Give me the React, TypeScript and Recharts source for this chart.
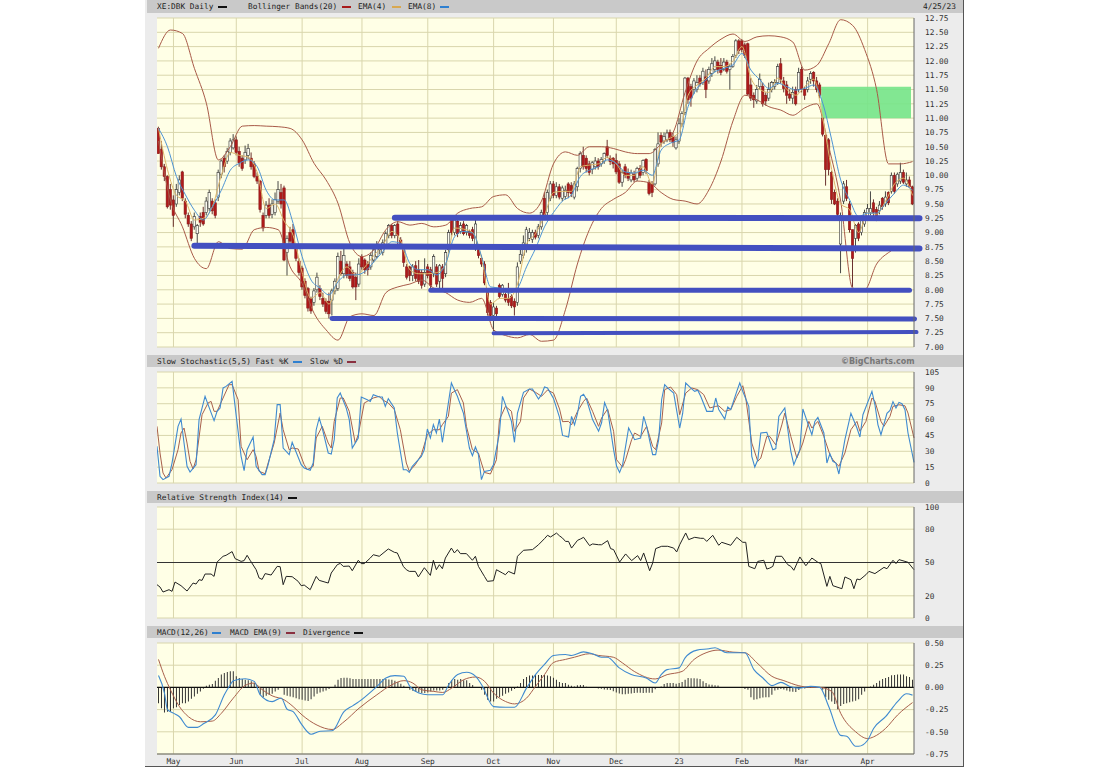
import {
  Bar,
  CartesianGrid,
  ComposedChart,
  Line,
  ReferenceArea,
  ReferenceLine,
  XAxis,
  YAxis,
} from "recharts";

const FONT = "'DejaVu Sans Mono', monospace";

const opens = [
  10.82,10.45,10.15,9.98,9.75,9.57,9.50,9.70,10.06,9.55,
  9.30,9.15,9.10,8.98,9.28,9.35,9.35,9.42,9.55,9.52,
  9.62,10.02,10.30,10.25,10.40,10.48,10.62,10.42,10.30,10.27,
  10.35,10.30,10.20,9.98,9.90,9.30,9.30,9.48,9.32,9.35,
  9.55,9.70,9.78,8.65,9.00,9.05,8.75,8.50,8.38,8.15,
  8.02,7.85,7.78,8.00,8.02,7.85,7.80,7.80,7.82,7.98,
  8.02,8.50,8.28,8.45,8.40,8.30,8.22,8.10,8.58,8.52,
  8.45,8.40,8.52,8.58,8.70,8.65,8.78,8.95,9.12,8.95,
  9.15,8.87,8.70,8.40,8.40,8.25,8.42,8.35,8.30,8.10,
  8.40,8.35,8.28,8.40,8.15,8.40,8.28,8.70,9.22,9.00,
  9.20,9.02,9.15,9.00,9.02,9.05,8.72,8.70,8.55,8.45,
  7.95,7.78,7.55,7.68,8.08,7.92,7.92,7.85,7.88,7.80,
  7.78,8.50,8.60,8.72,8.90,8.88,9.00,8.95,9.10,9.60,
  9.35,9.60,9.85,9.65,9.80,9.60,9.63,9.85,9.82,9.62,
  9.80,10.12,10.35,10.30,10.20,10.10,10.15,10.25,10.20,10.25,
  10.50,10.30,10.30,10.26,10.20,9.88,10.15,10.05,9.92,10.02,
  9.95,10.12,10.05,10.28,9.88,9.85,9.85,10.20,10.70,10.60,
  10.62,10.75,10.68,10.48,10.60,10.90,11.10,11.70,11.55,11.50,
  11.50,11.70,11.62,11.72,11.65,11.78,11.85,11.98,11.92,11.85,
  11.98,11.85,11.90,12.10,12.35,12.35,12.28,12.30,11.58,11.40,
  11.30,11.55,11.55,11.40,11.35,11.50,11.55,11.62,11.95,11.65,
  11.58,11.42,11.35,11.50,11.50,11.85,11.50,11.50,11.68,11.80,
  11.65,11.58,11.00,10.70,10.62,10.05,9.70,9.55,8.80,9.55,
  9.80,9.50,9.05,8.90,9.15,9.00,9.15,9.28,9.35,9.52,
  9.40,9.38,9.60,9.50,9.70,9.72,10.00,9.85,9.90,10.05,
  9.85,9.92,9.80,
];
const closes = [
  10.38,10.15,9.98,9.45,9.48,9.30,9.75,9.92,9.60,9.32,
  9.15,8.90,9.28,9.12,9.18,9.15,9.55,9.70,9.38,9.30,
  10.05,10.25,10.15,10.42,10.60,10.62,10.40,10.22,10.12,10.40,
  10.47,10.15,9.98,9.90,9.40,9.08,9.48,9.30,9.50,9.58,
  9.75,9.50,8.52,8.90,8.85,8.80,8.55,8.30,8.05,7.90,
  7.68,7.63,7.98,8.22,7.88,7.75,7.62,7.58,7.98,8.15,
  8.58,8.28,8.60,8.25,8.20,8.05,8.05,8.45,8.40,8.35,
  8.35,8.60,8.70,8.78,8.75,8.82,8.98,9.12,8.95,9.12,
  8.95,8.78,8.48,8.22,8.25,8.40,8.20,8.15,8.08,8.30,
  8.25,8.08,8.58,8.10,8.42,8.20,8.65,9.00,9.00,9.22,
  8.98,9.12,8.98,9.12,8.95,8.90,9.15,8.60,8.45,8.12,
  7.60,7.55,7.70,7.58,7.88,8.08,7.82,7.78,7.72,7.70,
  8.40,8.62,8.82,9.05,9.00,9.00,8.92,9.10,9.35,9.30,
  9.70,9.85,9.65,9.80,9.62,9.78,9.74,9.70,9.68,9.85,
  10.12,10.38,10.15,10.12,10.05,10.22,10.25,10.15,10.28,10.38,
  10.35,10.24,10.20,10.06,9.88,10.05,10.00,9.95,10.04,9.92,
  10.12,10.00,10.26,10.08,9.68,9.70,10.45,10.55,10.58,10.68,
  10.74,10.62,10.58,10.62,10.90,11.08,11.70,11.32,11.35,11.65,
  11.62,11.60,11.82,11.50,11.85,11.95,12.00,11.85,11.80,11.98,
  11.82,11.90,12.08,12.35,12.18,12.20,12.10,11.42,11.35,11.32,
  11.50,11.68,11.25,11.30,11.50,11.62,11.62,11.90,11.68,11.52,
  11.40,11.35,11.45,11.25,11.80,11.50,11.40,11.65,11.78,11.65,
  11.50,11.40,10.72,10.10,10.10,9.58,9.50,9.32,9.30,9.85,
  9.60,9.05,8.55,9.12,8.90,9.22,9.35,9.42,9.42,9.35,
  9.22,9.48,9.45,9.62,9.52,10.00,9.72,10.02,10.05,9.88,
  9.92,9.80,9.50,
];
const highs = [
  10.85,10.60,10.20,10.00,9.85,9.65,9.85,10.00,10.08,9.60,
  9.35,9.20,9.35,9.15,9.35,9.45,9.62,9.75,9.60,9.58,
  10.10,10.28,10.35,10.48,10.65,10.72,10.68,10.50,10.35,10.52,
  10.55,10.40,10.25,10.05,9.92,9.35,9.55,9.60,9.58,9.70,
  9.90,9.85,9.82,8.95,9.10,9.15,8.80,8.55,8.42,8.20,
  8.05,7.88,8.03,8.30,8.08,7.95,7.85,7.95,8.02,8.20,
  8.65,8.68,8.72,8.50,8.50,8.35,8.30,8.55,8.62,8.55,
  8.50,8.65,8.75,8.85,8.80,8.88,9.02,9.15,9.15,9.15,
  9.20,8.92,8.75,8.45,8.42,8.45,8.50,8.52,8.35,8.55,
  8.45,8.40,8.62,8.45,8.45,8.45,8.70,9.05,9.28,9.28,
  9.25,9.18,9.20,9.15,9.05,9.10,9.25,8.75,8.60,8.50,
  8.00,7.82,7.78,7.72,8.11,8.10,7.95,8.12,7.92,7.85,
  8.48,8.70,8.95,9.10,9.08,9.05,9.05,9.15,9.40,9.70,
  9.75,9.90,9.90,9.88,9.85,9.82,9.82,9.88,9.88,9.90,
  10.15,10.42,10.50,10.35,10.25,10.25,10.32,10.30,10.32,10.40,
  10.62,10.35,10.32,10.38,10.25,10.10,10.20,10.12,10.10,10.08,
  10.15,10.18,10.28,10.30,9.92,9.90,10.48,10.75,10.75,10.75,
  10.80,10.80,10.75,10.68,11.00,11.12,11.72,11.72,11.60,11.70,
  11.75,11.75,11.88,11.85,11.90,12.05,12.08,12.02,12.05,12.05,
  12.02,11.95,12.12,12.38,12.38,12.38,12.32,12.32,11.70,11.45,
  11.58,11.78,11.62,11.45,11.62,11.65,11.68,11.95,12.05,11.72,
  11.65,11.50,11.55,11.55,11.88,11.90,11.55,11.72,11.82,11.82,
  11.72,11.62,11.02,10.72,10.65,10.08,9.75,9.60,9.35,9.90,
  9.92,9.55,9.05,9.15,9.18,9.25,9.40,9.50,9.72,9.58,
  9.45,9.55,9.62,9.72,9.72,10.05,10.05,10.05,10.22,10.10,
  10.05,9.98,9.82,
];
const lows = [
  10.38,10.10,9.90,9.42,9.40,9.10,9.45,9.65,9.55,9.25,
  9.10,8.85,9.05,8.78,9.10,9.12,9.30,9.38,9.32,9.25,
  9.55,9.95,10.05,10.20,10.35,10.45,10.35,10.15,10.08,10.20,
  10.28,10.10,9.95,9.85,9.35,9.02,9.25,9.25,9.25,9.30,
  9.50,9.42,8.50,8.25,8.80,8.75,8.50,8.25,8.00,7.85,
  7.62,7.58,7.72,7.95,7.82,7.70,7.58,7.50,7.55,7.92,
  7.98,8.25,8.20,8.20,8.15,8.02,7.82,8.05,8.35,8.28,
  8.25,8.35,8.48,8.55,8.62,8.60,8.72,8.90,8.90,8.90,
  8.80,8.72,8.40,8.18,8.15,8.15,8.15,8.10,8.02,8.05,
  8.20,8.02,8.22,8.05,8.00,8.00,8.22,8.65,8.95,8.95,
  8.92,8.98,8.95,8.95,8.90,8.85,8.68,8.55,8.40,8.08,
  7.55,7.50,7.28,7.52,7.85,7.88,7.78,7.72,7.68,7.55,
  7.72,8.45,8.55,8.65,8.85,8.82,8.88,8.90,9.05,9.25,
  9.30,9.55,9.60,9.60,9.58,9.55,9.58,9.60,9.62,9.58,
  9.72,10.05,10.10,10.05,10.00,10.02,10.10,10.10,10.15,10.20,
  10.30,10.18,10.12,10.02,9.85,9.80,9.95,9.90,9.88,9.88,
  9.90,9.95,10.00,10.02,9.65,9.62,9.82,10.15,10.50,10.55,
  10.58,10.58,10.50,10.45,10.55,10.85,11.05,11.25,11.20,11.42,
  11.45,11.55,11.58,11.35,11.60,11.72,11.80,11.78,11.75,11.82,
  11.78,11.50,11.88,12.05,12.12,12.15,12.05,11.40,11.30,11.18,
  11.25,11.50,11.20,11.22,11.30,11.45,11.50,11.58,11.60,11.45,
  11.25,11.30,11.25,11.22,11.45,11.45,11.32,11.45,11.60,11.55,
  11.45,11.35,10.68,9.82,10.00,9.50,9.48,9.25,8.29,9.50,
  9.55,9.00,8.05,8.65,8.85,8.95,9.10,9.22,9.30,9.22,
  9.20,9.32,9.40,9.45,9.48,9.68,9.68,9.80,9.85,9.85,
  9.80,9.78,9.48,
];

// read every third day
const ema4Values = [
  10.82,10.1,9.65,9.55,9.22,9.25,9.45,10.0,10.4,10.35,10.32,10.05,9.42,9.5,9.2,8.95,8.3,
  7.85,7.95,7.75,8.2,8.4,8.25,8.4,8.6,8.78,9.02,8.85,8.35,8.28,8.28,8.3,8.45,9.08,9.06,
  9.0,8.55,7.75,7.85,7.85,8.1,8.8,8.98,9.3,9.7,9.72,9.72,10.15,10.18,10.2,10.32,10.2,10.0,
  10.0,10.15,9.85,10.55,10.65,10.75,11.4,11.58,11.7,11.9,11.9,12.0,12.25,11.7,11.5,11.45,
  11.7,11.5,11.4,11.55,11.68,11.0,10.1,9.5,9.4,9.0,9.35,9.32,9.55,9.85,9.95,9.65,
];
const ema8Values = [
  10.82,10.5,9.98,9.66,9.39,9.22,9.45,9.74,10.09,10.21,10.27,10.15,9.74,9.57,9.57,9.16,8.58,
  8.17,8.03,7.91,8.14,8.26,8.26,8.32,8.49,8.67,8.84,8.81,8.46,8.35,8.35,8.26,8.46,8.93,9.02,
  8.99,8.58,8.05,8.03,7.94,8.03,8.4,8.72,9.1,9.35,9.55,9.66,9.98,10.09,10.15,10.27,10.21,10.06,
  10.04,10.09,10.0,10.44,10.56,10.62,11.2,11.52,11.67,11.81,11.87,11.93,12.13,11.84,11.67,11.52,
  11.61,11.55,11.49,11.52,11.58,11.26,10.62,9.92,9.57,9.28,9.34,9.34,9.51,9.69,9.83,9.74,
];
// read every fourth day
const bollUpper = [
  12.22,12.54,12.48,11.87,11.26,10.27,10.5,10.86,10.87,10.86,10.85,10.82,10.62,10.21,9.92,9.51,
  8.81,8.58,8.7,9.05,9.19,9.13,9.16,9.1,9.13,9.34,9.42,9.45,9.63,9.66,9.42,9.34,
  9.55,10.2,10.41,10.35,10.5,10.5,10.47,10.41,10.38,10.38,10.55,10.75,11.45,12.0,12.22,12.38,
  12.47,12.34,12.42,12.44,12.42,12.33,11.84,11.92,12.3,12.72,12.62,12.2,11.5,10.2,10.2,10.24,
];
const bollLower = [
  10.6,9.57,9.1,8.55,8.37,8.84,8.72,8.71,9.05,9.09,9.05,8.4,8.11,7.59,7.3,7.12,
  7.53,7.58,7.55,7.95,8.05,8.1,8.17,8.03,7.95,7.82,7.78,7.85,7.3,7.2,7.16,7.22,
  7.1,7.12,7.65,8.45,9.05,9.42,9.58,9.7,9.9,9.87,9.7,9.58,9.55,9.5,9.75,10.25,
  10.95,11.4,11.32,11.2,11.14,11.05,11.18,11.25,10.5,9.55,8.03,8.0,8.45,8.65,8.75,8.75,
];

const kDays = [
  0,1,2,4,5,7,8,9,10,11,13,14,16,17,19,20,21,22,23,25,26,28,29,30,32,33,35,36,37,39,40,41,42,44,45,46,48,49,51,52,
  53,54,55,57,58,59,60,61,63,64,65,67,68,70,71,72,74,75,76,77,79,80,82,83,84,85,88,89,90,91,92,93,94,95,96,98,99,100,
  102,104,105,106,107,108,109,111,112,114,115,117,118,119,120,122,124,125,127,128,129,130,132,134,135,137,138,139,140,
  141,142,143,145,147,148,149,150,152,153,154,155,157,159,161,162,163,165,166,167,168,169,170,172,174,175,176,178,179,
  180,181,183,185,186,187,189,190,191,193,194,195,197,198,199,200,201,203,205,206,207,209,210,211,212,214,215,217,218,
  219,220,222,223,224,225,226,227,229,231,233,234,235,238,239,240,241,243,244,245,246,247,248,249,250,252,
];
const kValues = [
  34.7,6.3,3.2,6.3,18.9,53.6,60.5,37.8,15.8,10.4,17.3,59.9,82,74.1,59,67.8,70.9,89.9,91.4,96.2,72.5,25.2,11.7,31.5,43.5,15.8,7.9,7.9,17.3,41,74.1,74.1,33.1,26.8,38.5,31.5,17.3,14.2,12,18.9,
  50.4,61.5,52,28.4,27.4,41,80.4,85.1,70.9,59.9,33.1,42.6,81.3,78.8,77.2,83.6,81.3,81.3,72.5,79.8,70.9,47.3,12.6,12.6,10.1,15.8,25.2,31.5,51.1,42.6,55.2,47.3,60.5,38.5,56.8,94.6,88.3,82,
  66.2,33.1,25.9,34.1,26.8,3.2,11,12,17.3,47.3,82,66.2,58.3,38.5,66.2,85.8,88.9,88.9,79.5,83.6,90.8,90,80,62,45,43.5,63,55,66,
  82,84,79,60,49,57,76,69,31.5,15.8,10,17.3,52,41,42.6,63,53.6,26.8,26.8,41,79,93,90,85,52,66,94.6,89,86.7,
  87.7,82,67.8,67.8,80.4,69.4,60.5,71.9,69.4,86.7,94.6,86.7,72.5,25.2,15.1,22,47.3,48,31.5,32.5,63,71,50.4,30,17.3,31.5,70,53.6,45.7,
  58.3,62,47.3,18.9,27.7,20.5,18.9,8.5,41,66,52,43.5,64.6,86.7,74,55,45.7,66,68.7,77,71,76.3,75,69.4,47.3,19.5,
];
const dDays = [
  0,1,2,3,5,7,8,9,10,11,12,13,15,17,18,19,20,22,24,25,27,28,30,32,33,34,36,37,39,41,42,44,45,47,49,50,52,53,55,57,58,59,61,62,64,66,67,69,70,72,74,75,77,79,81,83,84,86,88,90,92,94,95,97,98,100,102,103,105,107,108,109,111,113,114,116,118,119,121,122,124,126,128,129,130,132,134,135,
  137,138,140,142,143,145,147,148,150,152,153,155,156,158,159,161,163,165,166,168,169,171,173,174,176,178,180,182,184,186,187,189,191,193,195,196,198,200,201,203,204,206,208,209,211,213,215,217,218,220,222,224,225,227,229,231,233,234,236,238,239,241,242,244,245,247,249,250,252,
];
const dValues = [
  53.6,28.4,9.5,4.7,12.6,31.5,47.3,52,37.8,20.5,13.2,22,64.6,75.7,77.2,67.8,67.8,80.4,93,93,78.8,34.7,22,31.5,25.2,11,8.8,18.9,37.8,66.2,50.4,31.5,33.1,32.2,17.3,12.6,15.8,42.6,53.6,37.8,33.1,58.3,80.4,80.4,67.8,37.8,45.7,75.7,77.2,80.4,82,78.8,75.7,69.4,50.4,18.9,11,17.3,26.8,45.7,50.4,50.4,55.2,63,85,88.3,75.7,53.6,31.5,28.4,18.9,10,8.5,22,60,72.5,67.8,48.9,58.3,80.4,88.9,85.8,82,85,88,85,70,58,
  58.3,55,67.8,77.2,80.4,67.8,53.6,61.5,70,48.9,22,15,22,41,47.3,44,53.6,34.7,31.5,56.8,88.3,90.8,83.6,64.6,85,89.9,88.3,83.6,71,72.5,73,67.8,69.4,82,92,80.4,37.8,20.5,23.6,44,44,36,55,66.2,44,23.6,37.8,58.3,52,58.3,44,26.8,22,15.8,28.4,50.4,58.3,48.9,58.3,80.4,77.2,58.3,53.6,63,72.5,74,73,66.2,42.6,
];

const rsiDays = [
  0,1,2,4,5,6,8,10,12,13,14,15,16,18,19,20,22,23,25,26,28,29,30,31,33,34,35,36,38,40,41,42,43,45,47,48,49,51,53,54,57,58,60,61,62,64,65,67,68,69,71,72,74,77,79,80,82,83,84,86,87,89,91,92,93,94,95,96,98,99,100,101,103,105,106,107,109,110,112,113,115,116,117,119,120,122,125,127,129,
  130,131,133,134,135,136,137,138,140,141,142,144,145,147,148,150,151,152,154,156,158,160,161,162,164,165,166,168,170,172,173,174,176,177,179,181,182,183,185,187,188,191,193,195,196,197,199,200,202,203,204,205,206,208,210,211,212,214,216,218,220,221,223,224,225,228,229,231,232,233,234,236,237,239,242,243,245,246,247,249,250,252,
];
const rsiValues = [
  30,27.9,23.4,25.5,24,32.4,29.1,24.3,31.5,30.6,34.5,33.9,39.6,39.6,37.5,50.4,55.6,56.5,59.8,53.5,51,51.7,56.5,52,43.5,36,34.8,40,38.7,46.5,46.2,30,37.5,37.2,33,29.1,29.7,25.5,37.5,33.9,31.5,40.5,48,49.2,46.5,46.8,42.6,52,49,49,54,57,55.6,62.2,59.2,58.6,46.5,43.5,42,42,37,45.3,38.4,52,43.5,48,44.4,54,63,58.6,61.6,58,58,52,55.6,46.5,37.5,33,33.6,43.5,40.5,39,42,39.6,55.6,61,61.6,66,71.5,
  74.5,73,76.5,74,72,69,69,63,70,71.2,72.7,65.2,66.7,66,66,69.7,62.5,61.6,50.4,57.7,51.7,56.2,51.7,58.6,42.6,49.5,62.5,64.6,64.6,63,59.5,66,76.6,70.6,72.7,71.8,71.8,69,74.5,65.5,68.2,65.5,72.7,68.2,68.2,46.5,44.4,51,52,44.1,45,46.5,55.6,55.6,48,46.5,43,55,47.1,54,50.2,49,28.5,37.5,29.1,26.4,37,34.5,26.4,35.1,34.5,39,42,40,45.6,44.4,52,49,52.6,51,50.2,43.5,
];

const macdDays = [
  0,2,3,5,7,10,13,15,19,22,24,25,29,32,34,38,41,43,45,48,51,54,58,62,65,67,73,76,79,82,84,87,90,95,97,100,103,106,108,112,116,119,123,126,129,132,
  136,138,142,145,148,150,154,158,163,166,168,170,174,176,180,184,186,190,196,199,202,205,208,211,214,218,221,224,228,230,233,234,237,239,243,247,250,252,
];
const macdValues = [
  0.133,-0.065,-0.25,-0.29,-0.33,-0.45,-0.45,-0.41,-0.31,-0.083,0.03,0.076,0.098,0.068,-0.083,-0.16,-0.12,-0.246,-0.273,-0.425,-0.527,-0.493,-0.489,-0.273,-0.205,-0.16,0.011,0.106,0.133,0.125,0.011,-0.064,-0.083,-0.083,0.03,0.144,0.17,0.125,0.03,-0.216,-0.224,-0.224,-0.008,0.144,0.258,0.36,
  0.371,0.36,0.4,0.379,0.34,0.34,0.22,0.144,0.106,0.049,0.144,0.2,0.22,0.333,0.42,0.435,0.447,0.39,0.39,0.2,0.106,0.02,0.057,0.011,-0.008,0.011,0,-0.216,-0.54,-0.55,-0.663,-0.663,-0.595,-0.462,-0.33,-0.16,-0.072,-0.087,
];
const signalDays = [
  0,2,4,7,10,14,18,21,25,29,32,34,38,42,45,48,53,58,62,67,73,78,82,85,88,92,95,98,102,106,109,112,116,119,123,126,129,132,
  136,139,144,147,152,155,159,166,170,175,179,183,187,192,196,200,205,209,214,218,221,225,228,233,237,239,243,247,252,
];
const signalValues = [
  0.315,0.125,-0.027,-0.216,-0.33,-0.387,-0.379,-0.292,-0.121,0.023,0.049,-0.008,-0.095,-0.14,-0.216,-0.311,-0.425,-0.474,-0.387,-0.235,-0.083,0.03,0.076,0.049,-0.027,-0.045,-0.057,-0.008,0.087,0.117,0.068,-0.064,-0.159,-0.186,-0.121,0.011,0.144,0.28,
  0.315,0.34,0.379,0.36,0.34,0.277,0.18,0.095,0.144,0.18,0.315,0.39,0.42,0.397,0.39,0.277,0.125,0.076,0.019,0,0,-0.045,-0.292,-0.5,-0.576,-0.557,-0.462,-0.311,-0.171,
];
const divergence = [
  -0.178,-0.235,-0.284,-0.273,-0.273,-0.235,-0.224,-0.197,-0.178,-0.178,
  -0.159,-0.129,-0.102,-0.072,-0.045,-0.015,0.019,0.03,0.038,0.076,
  0.106,0.144,0.163,0.174,0.182,0.182,0.125,0.106,0.095,0.087,
  0.08,0.068,0.049,0.011,-0.083,-0.11,-0.095,-0.083,-0.072,-0.045,
  -0.027,-0.008,-0.083,-0.095,-0.102,-0.11,-0.121,-0.133,-0.14,-0.148,
  -0.152,-0.133,-0.102,-0.072,-0.057,-0.045,-0.034,-0.019,-0.008,0.03,
  0.087,0.106,0.11,0.11,0.102,0.095,0.095,0.095,0.095,0.095,
  0.095,0.095,0.095,0.095,0.095,0.095,0.095,0.09,0.087,0.076,
  0.06,0.042,0.019,-0.008,-0.027,-0.038,-0.049,-0.057,-0.064,-0.064,
  -0.057,-0.045,-0.034,-0.034,-0.034,-0.027,-0.008,0.049,0.08,0.095,
  0.087,0.095,0.08,0.08,0.049,0.027,0,-0.008,-0.027,-0.083,
  -0.14,-0.159,-0.159,-0.129,-0.11,-0.095,-0.072,-0.057,-0.038,-0.019,
  0.011,0.049,0.095,0.117,0.133,0.133,0.14,0.14,0.14,0.14,
  0.133,0.125,0.11,0.087,0.06,0.05,0.049,0.03,0.019,0.011,
  0.023,0.027,0.027,0.008,0,0,0,-0.011,-0.015,-0.023,
  -0.027,-0.03,-0.042,-0.057,-0.068,-0.076,-0.076,-0.072,-0.068,-0.064,
  -0.061,-0.061,-0.064,-0.061,-0.061,-0.061,-0.02,0.004,0.011,0.038,
  0.049,0.049,0.049,0.042,0.049,0.06,0.085,0.106,0.102,0.102,
  0.1,0.095,0.07,0.05,0.034,0.03,0.023,0.02,0,0,
  0,-0.008,-0.008,0,0,-0.004,-0.019,-0.027,-0.11,-0.14,
  -0.133,-0.121,-0.114,-0.11,-0.11,-0.083,-0.034,-0.027,-0.019,-0.023,
  -0.034,-0.045,-0.049,-0.053,-0.03,-0.008,-0.011,0,0,0,
  0,0,-0.027,-0.11,-0.14,-0.159,-0.186,-0.246,-0.21,-0.186,
  -0.178,-0.167,-0.159,-0.15,-0.133,-0.083,-0.045,0,0.011,0.03,
  0.049,0.076,0.095,0.106,0.117,0.136,0.14,0.144,0.144,0.144,
  0.125,0.117,0.087,
];

const monthDays = [5, 26, 48, 68, 90, 112, 132, 153, 174, 195, 215, 237];
const monthLabels = ["May", "Jun", "Jul", "Aug", "Sep", "Oct", "Nov", "Dec", "23", "Feb", "Mar", "Apr"];
const priceTicks = [
  7, 7.25, 7.5, 7.75, 8, 8.25, 8.5, 8.75, 9, 9.25, 9.5, 9.75, 10, 10.25, 10.5, 10.75, 11, 11.25, 11.5, 11.75, 12,
  12.25, 12.5, 12.75,
];
const stochTicks = [0, 15, 30, 45, 60, 75, 90, 105];
const rsiTicks = [0, 20, 50, 80, 100];
const macdTicks = [-0.75, -0.5, -0.25, 0, 0.25, 0.5];

// drawn-on support levels: from day, from price, to day, to price, extra px past the end, thickness
const supportLines = [
  { x1: 79, y1: 9.26, x2: 252, y2: 9.25, over: 7, w: 6 },
  { x1: 12, y1: 8.77, x2: 252, y2: 8.72, over: 7, w: 6 },
  { x1: 91, y1: 7.99, x2: 251, y2: 7.99, over: 0, w: 5 },
  { x1: 58, y1: 7.5, x2: 252, y2: 7.49, over: 2, w: 5 },
  { x1: 112, y1: 7.24, x2: 252, y2: 7.26, over: 4, w: 4 },
];

const byDay = (days: number[], values: number[]) => new Map(days.map((d, n) => [d, values[n]]));
const everyNth = (n: number) => closes.map((_, i) => i).filter((i) => i % n === 0);

const ema4Map = byDay(everyNth(3), ema4Values);
const ema8Map = byDay(everyNth(3), ema8Values);
const upperMap = byDay(everyNth(4), bollUpper);
const lowerMap = byDay(everyNth(4), bollLower);
const kMap = byDay(kDays, kValues);
const dMap = byDay(dDays, dValues);
const rsiMap = byDay(rsiDays, rsiValues);
const macdMap = byDay(macdDays, macdValues);
const signalMap = byDay(signalDays, signalValues);

const rows = closes.map((close, i) => ({
  i,
  open: opens[i],
  close,
  high: highs[i],
  low: lows[i],
  range: [lows[i], highs[i]],
  ema4: ema4Map.get(i),
  ema8: ema8Map.get(i),
  upper: upperMap.get(i),
  lower: lowerMap.get(i),
  k: kMap.get(i),
  d: dMap.get(i),
  rsi: rsiMap.get(i),
  macd: macdMap.get(i),
  signal: signalMap.get(i),
  div: divergence[i],
}));

const Candle = (props: any) => {
  const { x, y, width, height, payload } = props;
  const perUnit = height / (payload.high - payload.low || 1);
  const yOpen = y + (payload.high - payload.open) * perUnit;
  const yClose = y + (payload.high - payload.close) * perUnit;
  const up = payload.close >= payload.open;
  const cx = x + width / 2;
  return (
    <g>
      <line x1={cx} x2={cx} y1={y} y2={y + height} stroke={up ? "#333" : "#5a1a1a"} strokeWidth={0.9} />
      <rect
        x={cx - 1.2}
        y={Math.min(yOpen, yClose)}
        width={2.4}
        height={Math.max(Math.abs(yClose - yOpen), 0.8)}
        fill={up ? "#fbfbf0" : "#b01a1a"}
        stroke={up ? "#333" : "#8a1c1c"}
        strokeWidth={0.6}
      />
    </g>
  );
};

const Support = (over: number, w: number) => (props: any) => (
  <line
    x1={props.x1}
    y1={props.y1}
    x2={props.x2 + over}
    y2={props.y2}
    stroke="#4350c0"
    strokeWidth={w}
    strokeLinecap="round"
  />
);

const axisTick = { fontFamily: FONT, fontSize: 7.8, fill: "#333" };
const GRID = "#d9d6ac";
const PAPER = "#ffffe6";

// the month lines sit on the centre of that day's band
const monthGrid = ({ offset }: any) =>
  monthDays.map((d) => offset.left + ((d + 0.5) * offset.width) / rows.length);

// each panel shares the same x axis and the same plot width
const panel = (top: number, plotHeight: number, bottomRoom: number, children: any, showMonths = false) => (
  <div style={{ position: "absolute", left: 157, top: top - 8 }}>
    <ComposedChart
      width={807}
      height={plotHeight + 8 + bottomRoom}
      data={rows}
      margin={{ top: 8, right: 0, bottom: bottomRoom - (showMonths ? 12 : 0), left: 0 }}
      barCategoryGap={0}
    >
      <CartesianGrid fill={PAPER} stroke={GRID} strokeWidth={1} verticalCoordinatesGenerator={monthGrid} />
      <XAxis
        dataKey="i"
        ticks={monthDays}
        interval={0}
        height={showMonths ? 12 : 0}
        tick={showMonths ? axisTick : false}
        tickLine={false}
        tickSize={4}
        tickMargin={0}
        axisLine={{ stroke: "#666" }}
        tickFormatter={(d: number) => monthLabels[monthDays.indexOf(d)]}
      />
      {children}
    </ComposedChart>
  </div>
);

const rightAxis = (domain: number[], ticks: number[], digits: number) => (
  <YAxis
    orientation="right"
    width={50}
    type="number"
    domain={domain}
    ticks={ticks}
    interval={0}
    tick={axisTick}
    tickLine={false}
    tickMargin={5}
    axisLine={{ stroke: "#666" }}
    tickFormatter={(v: number) => v.toFixed(digits)}
  />
);

const seriesLine = (key: string, color: string, width = 1, curve: any = "linear") => (
  <Line
    key={key}
    dataKey={key}
    type={curve}
    stroke={color}
    strokeWidth={width}
    dot={false}
    connectNulls
    isAnimationActive={false}
    legendType="none"
  />
);

const Label = ({ x, y, text, color = "#222" }: { x: number; y: number; text: string; color?: string }) => (
  <span style={{ position: "absolute", left: x, top: y, font: `7.8px ${FONT}`, color, whiteSpace: "pre", lineHeight: "11px" }}>
    {text}
  </span>
);
const Swatch = ({ x, y, color }: { x: number; y: number; color: string }) => (
  <span style={{ position: "absolute", left: x, top: y + 5, width: 9, height: 2, background: color }} />
);
const Band = ({ top, height }: { top: number; height: number }) => (
  <div style={{ position: "absolute", left: 147, top, width: 816, height, background: "#c9c9c9" }} />
);

export default function App() {
  return (
    <div style={{ position: "absolute", left: 0, top: 0, width: 1109, height: 768, background: "#fff", overflow: "hidden" }}>
      <div
        style={{
          position: "absolute",
          left: 145,
          top: 0,
          width: 818,
          height: 766,
          background: "#ececec",
          borderRight: "1px solid #555",
          borderBottom: "1px solid #555",
        }}
      />
      <Band top={0} height={13} />
      <Band top={355} height={12} />
      <Band top={491} height={12} />
      <Band top={626} height={12} />

      <Label x={157} y={1} text="XE:DBK Daily" />
      <Swatch x={218} y={1} color="#111" />
      <Label x={248} y={1} text="Bollinger Bands(20)" />
      <Swatch x={342} y={1} color="#a81c1c" />
      <Label x={358} y={1} text="EMA(4)" />
      <Swatch x={392} y={1} color="#d8a850" />
      <Label x={408} y={1} text="EMA(8)" />
      <Swatch x={440} y={1} color="#2f80d0" />
      <Label x={923} y={1} text="4/25/23" />

      <Label x={157} y={356} text="Slow Stochastic(5,5) Fast %K" />
      <Swatch x={293} y={356} color="#2f80d0" />
      <Label x={310} y={356} text="Slow %D" />
      <Swatch x={347} y={356} color="#8a3040" />
      <span style={{ position: "absolute", left: 841, top: 356, font: "bold 8px 'DejaVu Sans', sans-serif", color: "#777", lineHeight: "11px" }}>
        ©BigCharts.com
      </span>

      <Label x={157} y={492} text="Relative Strength Index(14)" />
      <Swatch x={288} y={492} color="#111" />

      <Label x={157} y={627} text="MACD(12,26)" />
      <Swatch x={212} y={627} color="#2f80d0" />
      <Label x={230} y={627} text="MACD EMA(9)" />
      <Swatch x={286} y={627} color="#8a3040" />
      <Label x={303} y={627} text="Divergence" />
      <Swatch x={354} y={627} color="#111" />

      {panel(
        18,
        329,
        8,
        [
          <YAxis key="y" {...rightAxis([7, 12.75], priceTicks, 2).props} />,
          <ReferenceArea key="zone" x1={222} x2={251} y1={11} y2={11.55} fill="#74e488" fillOpacity={0.9} stroke="none" />,
          seriesLine("upper", "#a85a48", 1, "monotone"),
          seriesLine("lower", "#a85a48", 1, "monotone"),
          <Bar key="candles" dataKey="range" barSize={3} shape={Candle} isAnimationActive={false} legendType="none" />,
          seriesLine("ema4", "#dcb76a", 1, "monotone"),
          seriesLine("ema8", "#4d94d4", 1, "monotone"),
          ...supportLines.map((s, n) => (
            <ReferenceLine
              key={`s${n}`}
              segment={[
                { x: s.x1, y: s.y1 },
                { x: s.x2, y: s.y2 },
              ]}
              shape={Support(s.over, s.w)}
            />
          )),
        ],
      )}

      {panel(
        372,
        111,
        8,
        [
          <YAxis key="y" {...rightAxis([0, 105], stochTicks, 0).props} />,
          seriesLine("d", "#a8604c"),
          seriesLine("k", "#3f8ad0", 1.1),
        ],
      )}

      {panel(
        507,
        111,
        8,
        [
          <YAxis key="y" {...rightAxis([0, 100], rsiTicks, 0).props} />,
          <ReferenceLine key="mid" y={50} stroke="#333" strokeWidth={1} />,
          seriesLine("rsi", "#222"),
        ],
      )}

      {panel(
        643,
        111,
        14,
        [
          <YAxis key="y" {...rightAxis([-0.75, 0.5], macdTicks, 2).props} />,
          <Bar key="div" dataKey="div" barSize={1} fill="#333" isAnimationActive={false} legendType="none" />,
          <ReferenceLine key="zero" y={0} stroke="#111" strokeWidth={1.2} />,
          seriesLine("signal", "#a8604c", 1, "monotone"),
          seriesLine("macd", "#3f8ad0", 1.1, "monotone"),
        ],
        true,
      )}
    </div>
  );
}
